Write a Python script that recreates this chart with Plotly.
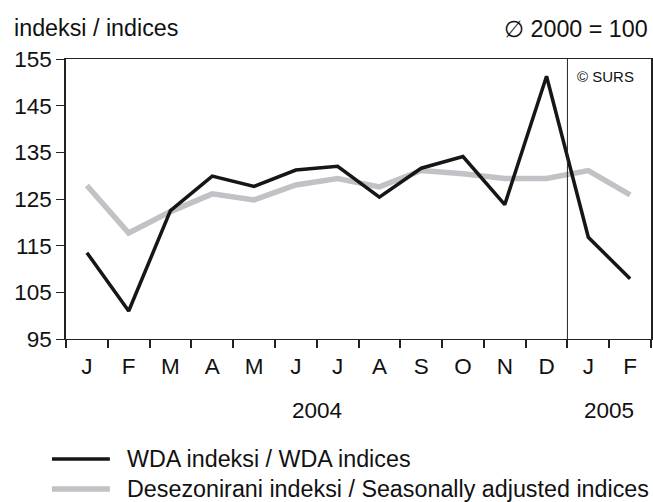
import plotly.graph_objects as go

months = ["J", "F", "M", "A", "M", "J", "J", "A", "S", "O", "N", "D", "J", "F"]
wda = [113.5, 101.0, 122.5, 129.9, 127.7, 131.2, 132.0, 125.4, 131.6, 134.1, 123.8, 151.3, 116.8, 107.9]
seasonal = [127.9, 117.7, 122.3, 126.1, 124.8, 128.0, 129.4, 127.6, 131.1, 130.4, 129.4, 129.4, 131.1, 125.9]
years = ["2004", "2005"]
year_pos = [5.5, 12.5]
split_pos = 11.5
y_ticks = [95, 105, 115, 125, 135, 145, 155]

FONT = "Liberation Sans, Arial, sans-serif"
BLACK = "#161616"
GRAY = "#c2c2c6"
FS = 22.5
FS_BIG = 23.3

x = list(range(len(months)))

fig = go.Figure()
fig.add_trace(go.Scatter(x=x, y=seasonal, mode="lines", name="Desezonirani indeksi / Seasonally adjusted indices",
                         line=dict(color=GRAY, width=5.5), showlegend=False))
fig.add_trace(go.Scatter(x=x, y=wda, mode="lines", name="WDA indeksi / WDA indices",
                         line=dict(color=BLACK, width=3.5), showlegend=False))

fig.update_layout(
    width=653, height=502,
    margin=dict(l=66, r=2, t=59, b=163, autoexpand=False),
    paper_bgcolor="white", plot_bgcolor="white",
    font=dict(family=FONT, size=FS, color="#111111"),
)
fig.update_xaxes(
    range=[-0.5, len(months) - 0.5],
    tickvals=x, ticktext=months, ticks="", ticklen=0,
    showgrid=False, zeroline=False,
    showline=True, linecolor="#222222", linewidth=1, mirror=True,
    minor=dict(ticks="outside", tick0=-0.5, dtick=1, ticklen=8, tickcolor="#222222", tickwidth=1.5, showgrid=False),
    ticklabelstandoff=7,
    tickfont=dict(size=FS),
)
fig.update_yaxes(
    range=[95, 155], tickvals=y_ticks, ticks="outside", ticklen=8, tickcolor="#222222", tickwidth=1.2,
    showgrid=False, zeroline=False,
    showline=True, linecolor="#222222", linewidth=1.5, mirror=True,
    tickfont=dict(size=FS),
)

fig.add_shape(type="line", xref="x", yref="paper", x0=split_pos, x1=split_pos, y0=0, y1=1,
              line=dict(color="#222222", width=1))

for yr, pos in zip(years, year_pos):
    fig.add_annotation(text=yr, x=pos, xref="x", y=-0.257, yref="paper", showarrow=False,
                       font=dict(size=FS), xanchor="center", yanchor="middle")

fig.add_annotation(text="indeksi / indices", x=-0.093, xref="paper", y=1.111, yref="paper",
                   showarrow=False, xanchor="left", yanchor="middle", font=dict(size=FS_BIG))
fig.add_annotation(text="∅ 2000 = 100", x=0.998, xref="paper", y=1.108, yref="paper",
                   showarrow=False, xanchor="right", yanchor="middle", font=dict(size=FS_BIG))
fig.add_annotation(text="© SURS", x=0.923, xref="paper", y=0.936, yref="paper",
                   showarrow=False, xanchor="center", yanchor="middle", font=dict(size=15))

# legend
legend_items = [("WDA indeksi / WDA indices", BLACK, 3.5, -0.4286),
                ("Desezonirani indeksi / Seasonally adjusted indices", GRAY, 5.5, -0.5357)]
for label, col, w, yy in legend_items:
    fig.add_shape(type="line", xref="paper", yref="paper", x0=-0.024, x1=0.075, y0=yy, y1=yy,
                  line=dict(color=col, width=w))
    fig.add_annotation(text=label, x=0.1, xref="paper", y=yy, yref="paper", showarrow=False,
                       xanchor="left", yanchor="middle", font=dict(size=FS_BIG))

fig.write_html("out.html", config={"displayModeBar": False},
               post_script="document.body.style.margin='0px';document.body.style.overflow='hidden';")
